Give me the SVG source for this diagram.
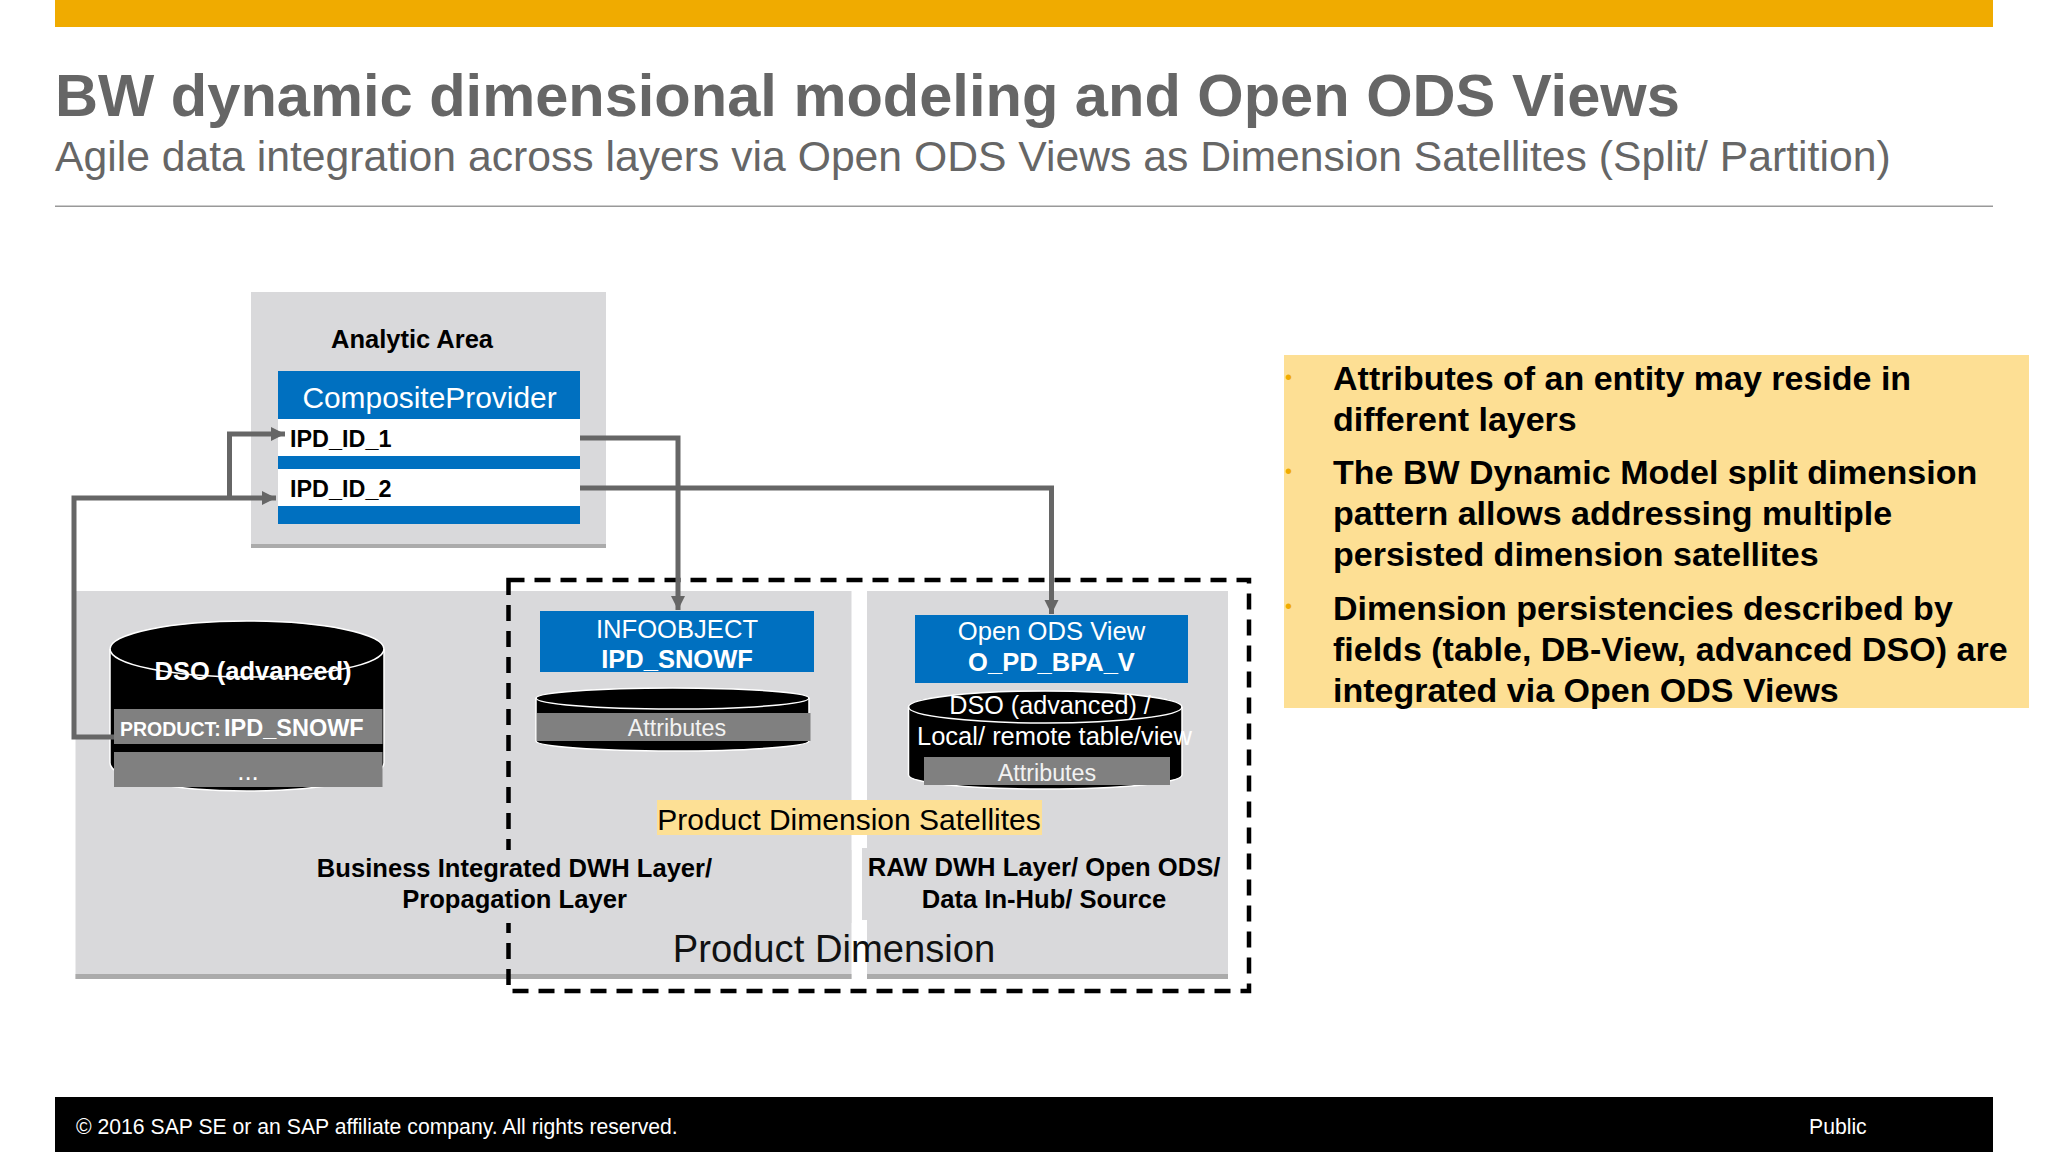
<svg xmlns="http://www.w3.org/2000/svg" width="2048" height="1152" viewBox="0 0 2048 1152">
<defs>
<marker id="ah" markerUnits="userSpaceOnUse" markerWidth="16" markerHeight="16" refX="14" refY="7" orient="auto"><path d="M0 0L14 7L0 14Z" fill="#666666"/></marker>
</defs>
<style>
text{font-family:"Liberation Sans",Arial,sans-serif}
.b{font-weight:700}
.m{text-anchor:middle}
.w{fill:#ffffff}
.k{fill:#000000}
.area{fill:#d9d9db}
.strip{fill:#ababab}
.blue{fill:#0070c0}
.gr{fill:#808080}
.cyl{fill:#000000;stroke:#ffffff;stroke-width:1.5}
.conn{fill:none;stroke:#666666;stroke-width:5}
.list{font-size:34px;font-weight:700;fill:#000000}
.bul{font-size:20px;fill:#f0ab00}
</style>
<rect width="2048" height="1152" fill="#ffffff"/>
<g id="header">
<rect x="55" y="0" width="1938" height="27" fill="#f0ab00"/>
<text x="55" y="116" font-size="59.6" class="b" fill="#666666">BW dynamic dimensional modeling and Open ODS Views</text>
<text x="55" y="171" font-size="42.7" fill="#666666">Agile data integration across layers via Open ODS Views as Dimension Satellites (Split/ Partition)</text>
<rect x="55" y="205.500" width="1938" height="1.500" fill="#999999"/>
</g>
<g id="analytic-area">
<rect class="area" x="251" y="292" width="355" height="256"/>
<rect class="strip" x="251" y="544" width="355" height="4"/>
<text x="331" y="348" font-size="25.500" class="b k">Analytic Area</text>
</g>
<g id="composite-provider">
<rect class="blue" x="278" y="371" width="302" height="48"/>
<rect x="278" y="419" width="302" height="37" fill="#ffffff"/>
<rect class="blue" x="278" y="456" width="302" height="13"/>
<rect x="278" y="469" width="302" height="37" fill="#ffffff"/>
<rect class="blue" x="278" y="506" width="302" height="18"/>
<text x="429.500" y="408" font-size="29.900" class="m w">CompositeProvider</text>
<text x="290" y="447" font-size="23.400" class="b k">IPD_ID_1</text>
<text x="290" y="497" font-size="23.400" class="b k">IPD_ID_2</text>
</g>
<g id="product-dimension">
<rect class="area" x="75.500" y="591" width="776" height="388"/>
<rect class="strip" x="75.500" y="974" width="776" height="5"/>
<rect class="area" x="867" y="591" width="361" height="388"/>
<rect class="strip" x="867" y="974" width="361" height="5"/>
</g>
<g id="dashed-boundary">
<rect x="508.500" y="580" width="740.500" height="411" fill="none" stroke="#000000" stroke-width="4.500" stroke-dasharray="16 10"/>
</g>
<g id="layer-labels">
<rect class="area" x="316" y="850" width="535.500" height="73"/>
<rect class="area" x="862" y="848" width="366" height="72"/>
<text x="514.500" y="877" font-size="25.600" class="b m k">Business Integrated DWH Layer/</text>
<text x="514.500" y="908" font-size="25.600" class="b m k">Propagation Layer</text>
<text x="1044" y="876" font-size="25.600" class="b m k">RAW DWH Layer/ Open ODS/</text>
<text x="1044" y="908" font-size="25.600" class="b m k">Data In-Hub/ Source</text>
<text x="834" y="962" font-size="38.200" class="m" fill="#111111">Product Dimension</text>
</g>
<g id="dso-advanced">
<path class="cyl" d="M110 649A137 28 0 0 1 384 649V763A137 28 0 0 1 110 763Z"/>
<path d="M110 649A137 28 0 0 0 384 649" fill="none" stroke="#ffffff" stroke-width="1.500"/>
<text x="253" y="680" font-size="25.500" class="b m w">DSO (advanced)</text>
<rect class="gr" x="114" y="709" width="268.500" height="35"/>
<rect class="gr" x="114" y="752" width="268.500" height="35"/>
<text x="120" y="736" font-size="19.500" class="b w">PRODUCT:</text>
<text x="224" y="736" font-size="23.500" class="b w">IPD_SNOWF</text>
<text x="248" y="780" font-size="26" class="m w">...</text>
</g>
<g id="infoobject">
<rect class="blue" x="540" y="611" width="274" height="61"/>
<text x="677" y="638" font-size="25.600" class="m w">INFOOBJECT</text>
<text x="677" y="668" font-size="25.500" class="b m w">IPD_SNOWF</text>
<path class="cyl" d="M536 698A136.500 10 0 0 1 809 698V741A136.500 10 0 0 1 536 741Z"/>
<path d="M536 698A136.500 11 0 0 0 809 698" fill="none" stroke="#ffffff" stroke-width="1.500"/>
<rect class="gr" x="537" y="713" width="273.500" height="28"/>
<text x="677" y="736" font-size="23.300" class="m" fill="#f2f2f2">Attributes</text>
</g>
<g id="open-ods-view">
<rect class="blue" x="915" y="615" width="273" height="68"/>
<text x="1051.500" y="640" font-size="25.600" class="m w">Open ODS View</text>
<text x="1051.500" y="671" font-size="25.500" class="b m w">O_PD_BPA_V</text>
<path class="cyl" d="M908.500 707A136.500 16 0 0 1 1182 707V775A136.500 14 0 0 1 908.500 775Z"/>
<path d="M908.500 707A136.500 16 0 0 0 1182 707" fill="none" stroke="#ffffff" stroke-width="1.500"/>
<text x="1050" y="714" font-size="25.200" class="m w">DSO (advanced) /</text>
<text x="1054.500" y="745" font-size="25.500" class="m w">Local/ remote table/view</text>
<rect class="gr" x="924" y="757" width="246" height="28"/>
<text x="1047" y="781" font-size="23.300" class="m" fill="#f2f2f2">Attributes</text>
</g>
<g id="satellites-label">
<rect x="657" y="800" width="385" height="35" fill="#fde095"/>
<text x="849" y="830" font-size="30" class="m k">Product Dimension Satellites</text>
</g>
<g id="connectors">
<path class="conn" d="M114 737H74V498H276" marker-end="url(#ah)"/>
<path class="conn" d="M229.500 498V434H285" marker-end="url(#ah)"/>
<path class="conn" d="M580 438H678V610" marker-end="url(#ah)"/>
<path class="conn" d="M580 488H1051.500V614" marker-end="url(#ah)"/>
</g>
<g id="notes">
<rect x="1284" y="355" width="745" height="353" fill="#fddf94"/>
<text class="bul" x="1285" y="384">•</text>
<text class="bul" x="1285" y="478">•</text>
<text class="bul" x="1285" y="613">•</text>
<text class="list" x="1333" y="390">Attributes of an entity may reside in</text>
<text class="list" x="1333" y="431">different layers</text>
<text class="list" x="1333" y="484">The BW Dynamic Model split dimension</text>
<text class="list" x="1333" y="525">pattern allows addressing multiple</text>
<text class="list" x="1333" y="566">persisted dimension satellites</text>
<text class="list" x="1333" y="620">Dimension persistencies described by</text>
<text class="list" x="1333" y="661">fields (table, DB-View, advanced DSO) are</text>
<text class="list" x="1333" y="702">integrated via Open ODS Views</text>
</g>
<g id="footer">
<rect x="55" y="1097" width="1938" height="55" fill="#000000"/>
<text x="76" y="1134" font-size="21.200" class="w">© 2016 SAP SE or an SAP affiliate company. All rights reserved.</text>
<text x="1809" y="1134" font-size="21.200" class="w">Public</text>
</g>
</svg>
